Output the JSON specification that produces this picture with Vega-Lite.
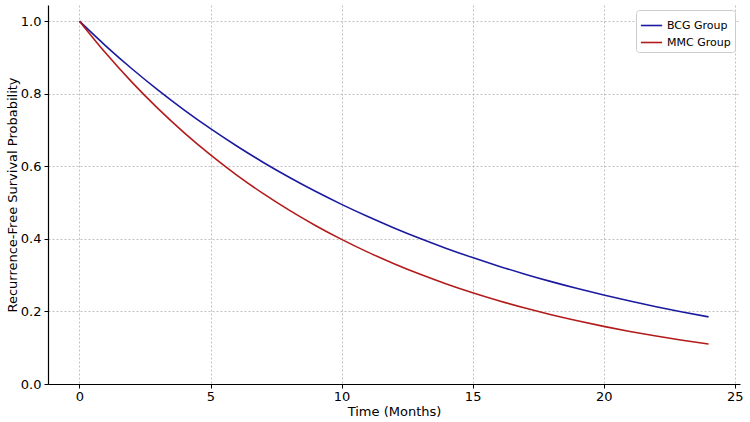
{
  "$schema": "https://vega.github.io/schema/vega-lite/v6.json",
  "width": 692,
  "height": 379,
  "autosize": {"type": "none"},
  "padding": {"left": 48, "top": 5, "right": 10, "bottom": 38},
  "background": "white",
  "config": {
    "font": "DejaVu Sans",
    "view": {"stroke": null},
    "axis": {
      "labelFont": "DejaVu Sans",
      "titleFont": "DejaVu Sans",
      "labelFontSize": 13,
      "titleFontSize": 13,
      "titleFontWeight": "normal",
      "labelColor": "#000000",
      "titleColor": "#000000",
      "domainColor": "#000000",
      "domainWidth": 1.2,
      "tickColor": "#000000",
      "tickSize": 4,
      "gridColor": "#b0b0b0",
      "gridDash": [2, 2],
      "gridWidth": 0.8
    }
  },
  "data": {
    "values": [
      {"t": 0, "s": 1.0, "g": "BCG Group"},
      {"t": 1, "s": 0.9321, "g": "BCG Group"},
      {"t": 2, "s": 0.8688, "g": "BCG Group"},
      {"t": 3, "s": 0.8099, "g": "BCG Group"},
      {"t": 4, "s": 0.7549, "g": "BCG Group"},
      {"t": 5, "s": 0.7036, "g": "BCG Group"},
      {"t": 6, "s": 0.6559, "g": "BCG Group"},
      {"t": 7, "s": 0.6113, "g": "BCG Group"},
      {"t": 8, "s": 0.5698, "g": "BCG Group"},
      {"t": 9, "s": 0.5311, "g": "BCG Group"},
      {"t": 10, "s": 0.4951, "g": "BCG Group"},
      {"t": 11, "s": 0.4615, "g": "BCG Group"},
      {"t": 12, "s": 0.4302, "g": "BCG Group"},
      {"t": 13, "s": 0.4010, "g": "BCG Group"},
      {"t": 14, "s": 0.3737, "g": "BCG Group"},
      {"t": 15, "s": 0.3484, "g": "BCG Group"},
      {"t": 16, "s": 0.3247, "g": "BCG Group"},
      {"t": 17, "s": 0.3027, "g": "BCG Group"},
      {"t": 18, "s": 0.2821, "g": "BCG Group"},
      {"t": 19, "s": 0.2630, "g": "BCG Group"},
      {"t": 20, "s": 0.2451, "g": "BCG Group"},
      {"t": 21, "s": 0.2285, "g": "BCG Group"},
      {"t": 22, "s": 0.2130, "g": "BCG Group"},
      {"t": 23, "s": 0.1985, "g": "BCG Group"},
      {"t": 24, "s": 0.1850, "g": "BCG Group"},
      {"t": 0, "s": 1.0, "g": "MMC Group"},
      {"t": 1, "s": 0.9121, "g": "MMC Group"},
      {"t": 2, "s": 0.8319, "g": "MMC Group"},
      {"t": 3, "s": 0.7588, "g": "MMC Group"},
      {"t": 4, "s": 0.6921, "g": "MMC Group"},
      {"t": 5, "s": 0.6313, "g": "MMC Group"},
      {"t": 6, "s": 0.5758, "g": "MMC Group"},
      {"t": 7, "s": 0.5252, "g": "MMC Group"},
      {"t": 8, "s": 0.4791, "g": "MMC Group"},
      {"t": 9, "s": 0.4370, "g": "MMC Group"},
      {"t": 10, "s": 0.3986, "g": "MMC Group"},
      {"t": 11, "s": 0.3635, "g": "MMC Group"},
      {"t": 12, "s": 0.3316, "g": "MMC Group"},
      {"t": 13, "s": 0.3024, "g": "MMC Group"},
      {"t": 14, "s": 0.2759, "g": "MMC Group"},
      {"t": 15, "s": 0.2516, "g": "MMC Group"},
      {"t": 16, "s": 0.2295, "g": "MMC Group"},
      {"t": 17, "s": 0.2093, "g": "MMC Group"},
      {"t": 18, "s": 0.1909, "g": "MMC Group"},
      {"t": 19, "s": 0.1742, "g": "MMC Group"},
      {"t": 20, "s": 0.1589, "g": "MMC Group"},
      {"t": 21, "s": 0.1449, "g": "MMC Group"},
      {"t": 22, "s": 0.1322, "g": "MMC Group"},
      {"t": 23, "s": 0.1205, "g": "MMC Group"},
      {"t": 24, "s": 0.1100, "g": "MMC Group"}
    ]
  },
  "mark": {"type": "line", "interpolate": "monotone", "strokeWidth": 1.6, "clip": true},
  "encoding": {
    "x": {
      "field": "t",
      "type": "quantitative",
      "scale": {"domain": [-1.2, 25.2], "nice": false, "zero": false},
      "axis": {"values": [0, 5, 10, 15, 20, 25], "format": "d", "title": "Time (Months)", "labelPadding": 2, "titlePadding": 2}
    },
    "y": {
      "field": "s",
      "type": "quantitative",
      "scale": {"domain": [0, 1.0445], "nice": false},
      "axis": {"values": [0, 0.2, 0.4, 0.6, 0.8, 1.0], "format": ".1f", "title": "Recurrence-Free Survival Probability", "labelPadding": 3, "titlePadding": 1}
    },
    "color": {
      "field": "g",
      "type": "nominal",
      "scale": {"domain": ["BCG Group", "MMC Group"], "range": ["#1a1aa0", "#b31b1b"]},
      "legend": {
        "title": null,
        "orient": "top-right",
        "offset": 5,
        "symbolType": "stroke",
        "symbolSize": 450,
        "symbolStrokeWidth": 1.6,
        "labelFontSize": 11,
        "labelFont": "DejaVu Sans",
        "labelColor": "#000000",
        "fillColor": "white",
        "strokeColor": "#cccccc",
        "cornerRadius": 3,
        "padding": 4,
        "rowPadding": 0
      }
    }
  }
}
